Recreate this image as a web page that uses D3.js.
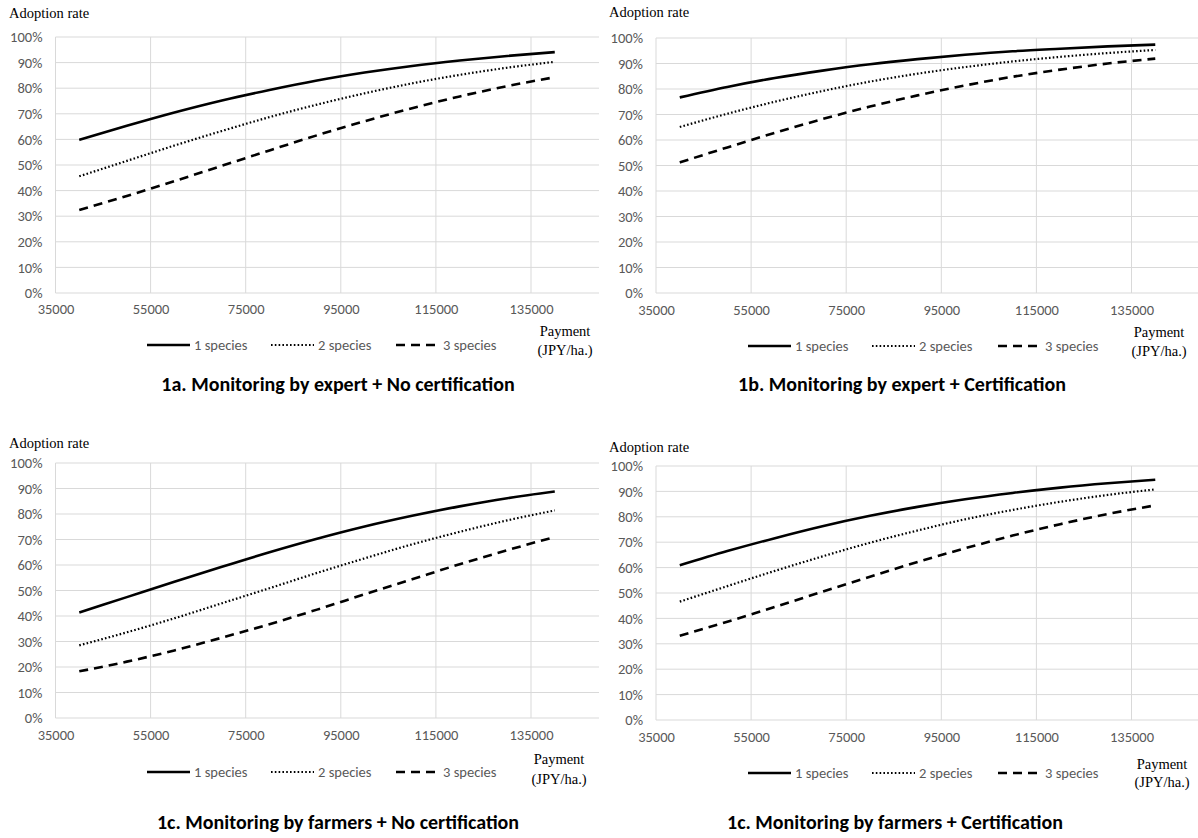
<!DOCTYPE html>
<html><head><meta charset="utf-8">
<script src="https://cdn.jsdelivr.net/npm/d3@7"></script>
<style>
body{margin:0;background:#fff}
.serif{font-family:"Liberation Serif","Times New Roman",Times,"DejaVu Serif",serif;}
.sans{font-family:Carlito,Calibri,Lato,"Liberation Sans",sans-serif;}
</style>
</head><body><svg id="c" width="1198" height="838"></svg>
<script>
// ---- data ----
const payments = [40000, 50000, 60000, 70000, 80000, 90000, 100000, 110000, 120000, 130000, 140000];
const seriesNames = ["1 species", "2 species", "3 species"];
const xTicks = [35000, 55000, 75000, 95000, 115000, 135000];
const yTicks = [0, 10, 20, 30, 40, 50, 60, 70, 80, 90, 100];
const panelTitles = [
  "1a. Monitoring by expert + No certification",
  "1b. Monitoring by expert + Certification",
  "1c. Monitoring by farmers + No certification",
  "1c. Monitoring by farmers + Certification"
];
// adoption rate (%) at each payment level
const expertNoCert1 = [59.8, 65.3, 70.5, 75.2, 79.3, 83.0, 86.1, 88.7, 90.8, 92.6, 94.1];
const expertNoCert2 = [45.6, 51.6, 57.6, 63.3, 68.7, 73.6, 78.0, 81.9, 85.2, 88.0, 90.3];
const expertNoCert3 = [32.4, 37.9, 43.7, 49.7, 55.7, 61.6, 67.1, 72.2, 76.8, 80.8, 84.3];
const expertCert1 = [76.7, 80.8, 84.3, 87.2, 89.7, 91.7, 93.4, 94.8, 95.8, 96.7, 97.4];
const expertCert2 = [65.1, 70.3, 75.0, 79.2, 82.9, 86.0, 88.6, 90.8, 92.6, 94.1, 95.3];
const expertCert3 = [51.2, 57.1, 62.8, 68.2, 73.1, 77.5, 81.4, 84.8, 87.6, 90.0, 91.9];
const farmerNoCert1 = [41.4, 47.4, 53.4, 59.3, 65.0, 70.3, 75.1, 79.3, 83.0, 86.2, 88.8];
const farmerNoCert2 = [28.5, 33.6, 39.1, 45.0, 50.9, 56.9, 62.6, 68.1, 73.0, 77.5, 81.4];
const farmerNoCert3 = [18.3, 22.1, 26.5, 31.5, 36.8, 42.5, 48.5, 54.4, 60.3, 65.8, 71.0];
const farmerCert1 = [60.9, 66.5, 71.6, 76.3, 80.4, 83.9, 86.9, 89.4, 91.5, 93.2, 94.6];
const farmerCert2 = [46.6, 52.7, 58.7, 64.4, 69.8, 74.6, 79.0, 82.7, 85.9, 88.6, 90.8];
const farmerCert3 = [33.2, 38.7, 44.5, 50.5, 56.4, 62.2, 67.6, 72.6, 77.1, 81.1, 84.5];

const panelData = [
  [expertNoCert1, expertNoCert2, expertNoCert3],
  [expertCert1, expertCert2, expertCert3],
  [farmerNoCert1, farmerNoCert2, farmerNoCert3],
  [farmerCert1, farmerCert2, farmerCert3]
];

// ---- layout ----
const layouts = [
  {ox: 0,   left: 55.5, top: 37,  bottom: 293, adopt: 18,  xl: 315, leg: 350, pay: 336, jpy: 355, title: 391, tx: 338, payx: 565, legx: [147, 271, 396]},
  {ox: 600, left: 56,   top: 38,  bottom: 293, adopt: 17,  xl: 316, leg: 351, pay: 337, jpy: 356, title: 391, tx: 302, payx: 559, legx: [148, 272, 398]},
  {ox: 0,   left: 55.5, top: 463, bottom: 718, adopt: 448, xl: 741, leg: 777, pay: 764, jpy: 784, title: 829, tx: 338, payx: 559, legx: [147, 271, 396]},
  {ox: 600, left: 56,   top: 466, bottom: 720, adopt: 452, xl: 743, leg: 778, pay: 769, jpy: 787, title: 829, tx: 295, payx: 562, legx: [148, 272, 398]}
];

const styles = [
  {w: 2.6, dash: null},
  {w: 2.2, dash: "1.6,2.2"},
  {w: 2.6, dash: "9,6"}
];

const svg = d3.select("#c");
const defs = svg.append("defs");

layouts.forEach((L, i) => {
  const g = svg.append("g").attr("transform", `translate(${L.ox},0)`);
  defs.append("clipPath").attr("id", "clip" + i)
    .append("rect").attr("x", 0).attr("y", 0).attr("width", 599).attr("height", 838);
  const x = d3.scaleLinear().domain([35000, 155000]).range([L.left, L.left + 6 * 95.1]);
  const y = d3.scaleLinear().domain([0, 100]).range([L.bottom, L.top]);
  const plot = g.append("g").attr("clip-path", `url(#clip${i})`);

  plot.append("g").selectAll("line").data(yTicks).join("line")
    .attr("x1", L.left).attr("x2", x(155000))
    .attr("y1", d => y(d)).attr("y2", d => y(d))
    .attr("stroke", "#d9d9d9").attr("stroke-width", 1);
  plot.append("g").selectAll("line").data(xTicks).join("line")
    .attr("x1", d => x(d)).attr("x2", d => x(d))
    .attr("y1", L.top).attr("y2", L.bottom)
    .attr("stroke", "#d9d9d9").attr("stroke-width", 1);

  const yAxis = d3.axisLeft(y).tickValues(yTicks).tickFormat(d => d + "%").tickSize(0).tickPadding(13);
  const ya = g.append("g").attr("transform", `translate(${L.left},0)`).call(yAxis);
  ya.select(".domain").remove();
  ya.attr("font-family", null).attr("font-size", null).attr("class", "sans");
  ya.selectAll("text").attr("font-size", 14.5).attr("fill", "#595959");

  const xAxis = d3.axisBottom(x).tickValues(xTicks).tickFormat(d => String(d)).tickSize(0).tickPadding(0);
  const xa = g.append("g").attr("transform", `translate(0,${L.xl - 11})`).call(xAxis);
  xa.select(".domain").remove();
  xa.attr("font-family", null).attr("font-size", null).attr("class", "sans");
  xa.selectAll("text").attr("font-size", 14.5).attr("fill", "#595959");

  const line = d3.line().x((d, j) => x(payments[j])).y(d => y(d)).curve(d3.curveMonotoneX);
  panelData[i].forEach((vals, s) => {
    plot.append("path").datum(vals).attr("d", line)
      .attr("fill", "none").attr("stroke", "#000")
      .attr("stroke-width", styles[s].w)
      .attr("stroke-dasharray", styles[s].dash);
  });

  g.append("text").attr("class", "serif").attr("x", 9).attr("y", L.adopt).text("Adoption rate")
    .attr("font-size", 14.5).attr("fill", "#000");
  g.append("text").attr("class", "serif").attr("x", L.payx).attr("y", L.pay).attr("text-anchor", "middle").text("Payment")
    .attr("font-size", 14.5).attr("fill", "#000");
  g.append("text").attr("class", "serif").attr("x", L.payx).attr("y", L.jpy).attr("text-anchor", "middle").text("(JPY/ha.)")
    .attr("font-size", 14.5).attr("fill", "#000");

  seriesNames.forEach((name, s) => {
    const lx = L.legx[s];
    g.append("line").attr("x1", lx).attr("x2", lx + 43).attr("y1", L.leg - 5).attr("y2", L.leg - 5)
      .attr("stroke", "#000").attr("stroke-width", styles[s].w)
      .attr("stroke-dasharray", styles[s].dash);
    g.append("text").attr("class", "sans").attr("x", lx + 47).attr("y", L.leg).text(name)
      .attr("font-size", 14.5).attr("fill", "#595959");
  });

  g.append("text").attr("class", "sans").attr("x", L.tx).attr("y", L.title).attr("text-anchor", "middle").text(panelTitles[i])
    .attr("font-size", 20).attr("font-weight", "bold").attr("fill", "#000");
});
</script></body></html>
